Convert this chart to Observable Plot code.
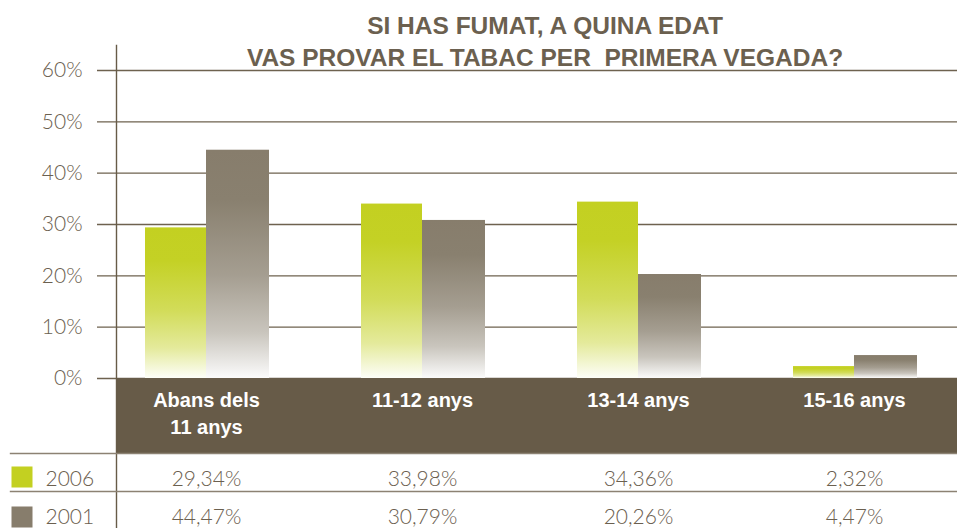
<!DOCTYPE html>
<html><head><meta charset="utf-8">
<script src="https://cdn.jsdelivr.net/npm/d3@7"></script>
<script src="https://cdn.jsdelivr.net/npm/@observablehq/plot@0.6"></script>
<style>body{margin:0;background:#fff} svg{display:block}</style>
</head><body><div id="chart"></div>
<script>
// ---- data ----
const categories = ["Abans dels\n11 anys", "11-12 anys", "13-14 anys", "15-16 anys"];
const series = ["2006", "2001"];
const values2006 = [29.34, 33.98, 34.36, 2.32];
const values2001 = [44.47, 30.79, 20.26, 4.47];
const yTicks = [0, 10, 20, 30, 40, 50, 60];
const titleLines = ["SI HAS FUMAT, A QUINA EDAT", "VAS PROVAR EL TABAC PER \u00a0PRIMERA VEGADA?"];

// ---- styles ----
const green = "#c3d021", grey = "#877d6c", brown = "#675b48", textColor = "#6b604f";
const lightFont = "Lato, 'Open Sans', sans-serif";
const boldFont = "'Liberation Sans', Arial, sans-serif";
const fmt = v => v.toFixed(2).replace(".", ",") + "%";

const rows2006 = categories.map((c, i) => ({category: c, value: values2006[i]}));
const rows2001 = categories.map((c, i) => ({category: c, value: values2001[i]}));

function gradients() {
  const defs = d3.create("svg:defs");
  const stops = [[0, 0], [0.22, 0.02], [0.55, 0.25], [0.8, 0.55], [1, 0.97]];
  for (const [id, c] of [["g2006", green], ["g2001", grey]]) {
    const g = defs.append("linearGradient").attr("id", id)
      .attr("x1", 0).attr("y1", 0).attr("x2", 0).attr("y2", 1);
    for (const [o, t] of stops)
      g.append("stop").attr("offset", o).attr("stop-color", d3.interpolateRgb(c, "#ffffff")(t));
  }
  return defs.node();
}

const chart = Plot.plot({
  width: 957,
  height: 528,
  marginTop: 70,
  marginBottom: 150,
  marginLeft: 116,
  marginRight: 0,
  style: {fontFamily: boldFont, background: "#fff"},
  x: {type: "band", domain: categories, range: [98, 962], padding: 0, round: false, axis: null},
  y: {domain: [0, 60], axis: null},
  marks: [
    gradients,
    // gridlines
    Plot.ruleY(yTicks, {stroke: "#6e624f", strokeWidth: 1.4, insetLeft: -19}),
    // bars
    Plot.barY(rows2006, {x: "category", y: "value", fill: "url(#g2006)", insetLeft: 47, insetRight: 108}),
    Plot.barY(rows2001, {x: "category", y: "value", fill: "url(#g2001)", insetLeft: 108, insetRight: 45}),
    // category band
    Plot.frame({fill: brown, stroke: "none", insetTop: 307.5, insetBottom: -75}),
    // vertical axis line
    Plot.frame({anchor: "left", stroke: brown, strokeWidth: 1.4, insetTop: -25, insetBottom: -150}),
    // table lines
    Plot.frame({anchor: "bottom", stroke: "#8c8273", strokeWidth: 1.4, insetBottom: -75, insetLeft: -106}),
    Plot.frame({anchor: "bottom", stroke: "#8c8273", strokeWidth: 1.4, insetBottom: -113, insetLeft: -106}),
    // y axis labels
    Plot.axisY(yTicks, {tickSize: 0, tickPadding: 34, tickFormat: d => d + "%", fontSize: 21,
      fontFamily: lightFont, fontWeight: 300, fill: textColor, label: null}),
    // category labels
    Plot.text(categories, {x: d => d, text: d => d, frameAnchor: "bottom", lineAnchor: "top", dy: 9,
      fill: "#ffffff", fontWeight: "bold", fontSize: 20, lineHeight: 1.35}),
    // table values
    Plot.text(rows2006, {x: "category", text: d => fmt(d.value), frameAnchor: "bottom", lineAnchor: "middle", dy: 101,
      fill: textColor, fontSize: 21, fontFamily: lightFont, fontWeight: 300}),
    Plot.text(rows2001, {x: "category", text: d => fmt(d.value), frameAnchor: "bottom", lineAnchor: "middle", dy: 139,
      fill: textColor, fontSize: 21, fontFamily: lightFont, fontWeight: 300}),
    // legend column
    Plot.dot([series[0]], {frameAnchor: "bottom-left", dx: -94.5, dy: 98.5, symbol: "square", r: 11.85, fill: green}),
    Plot.dot([series[1]], {frameAnchor: "bottom-left", dx: -94.5, dy: 138.5, symbol: "square", r: 11.85, fill: grey}),
    Plot.text([series[0]], {text: d => d, frameAnchor: "bottom-left", dx: -71, dy: 101, textAnchor: "start", lineAnchor: "middle",
      fill: textColor, fontSize: 21, fontFamily: lightFont, fontWeight: 300}),
    Plot.text([series[1]], {text: d => d, frameAnchor: "bottom-left", dx: -71, dy: 139, textAnchor: "start", lineAnchor: "middle",
      fill: textColor, fontSize: 21, fontFamily: lightFont, fontWeight: 300}),
    // title
    Plot.text([titleLines.join("\n")], {frameAnchor: "top", dx: 8, dy: -5, lineAnchor: "bottom",
      fontSize: 24.5, fontWeight: "bold", fill: textColor, lineHeight: 32 / 24.5})
  ]
});
document.getElementById("chart").append(chart);
</script>
</body></html>
